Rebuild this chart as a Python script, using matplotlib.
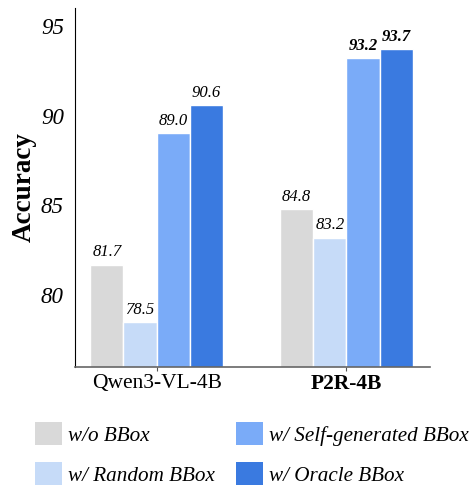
import numpy as np
import matplotlib.pyplot as plt
from matplotlib.patches import Patch

# ── Data ──────────────────────────────────────────────────────────────────────
models   = ['Qwen3-VL-4B', 'P2R-4B']
settings = ['w/o BBox', 'w/ Random BBox', 'w/ Self-generated BBox', 'w/ Oracle BBox']
scores   = [
    [81.7, 84.8],   # w/o BBox
    [78.5, 83.2],   # w/ Random BBox
    [89.0, 93.2],   # w/ Self-generated BBox
    [90.6, 93.7],   # w/ Oracle BBox
]
colors = ['#d9d9d9', '#c6dbf8', '#7aabf8', '#3a7ae0']

plt.rcParams['font.family'] = ['Liberation Serif', 'DejaVu Serif']

fig = plt.figure(figsize=(4.75, 4.86), dpi=100)
ax = fig.add_axes([0.158, 0.245, 0.747, 0.739])

x = np.arange(len(models))
w = 0.175
for k, (name, vals) in enumerate(zip(settings, scores)):
    pos = x + (k - 1.5) * w
    bars = ax.bar(pos, vals, width=w, color=colors[k], edgecolor='white', linewidth=1, label=name)
    for j, (b, v) in enumerate(zip(bars, vals)):
        bold = (j == 1 and k >= 2)
        ax.annotate(f'{v:.1f}', (b.get_x() + b.get_width() / 2, v),
                    xytext=(0, 3), textcoords='offset points', ha='center', va='bottom',
                    fontsize=12, style='italic', fontweight='bold' if bold else 'normal')

ax.set_ylim(76, 96)
ax.set_xlim(-0.43, 1.44)
ax.set_yticks([80, 85, 90, 95])
ax.tick_params(axis='y', length=0, labelsize=16.5, pad=8)
for t in ax.get_yticklabels():
    t.set_style('italic')
ax.set_xticks(x)
ax.set_xticklabels(models, fontsize=15.5)
ax.get_xticklabels()[1].set_fontweight('bold')
ax.tick_params(axis='x', length=3, color='#555555', pad=2)
ax.set_ylabel('Accuracy', fontsize=19.5, fontweight='bold', labelpad=3)

ax.spines['top'].set_visible(False)
ax.spines['right'].set_visible(False)
ax.spines['bottom'].set_color('#666666')
ax.spines['bottom'].set_linewidth(1.2)

handles = [Patch(facecolor=c, edgecolor='none') for c in colors]
leg = fig.legend(handles, settings, loc='center', bbox_to_anchor=(252 / 475, 1 - 454 / 486),
                 ncol=2, frameon=False, prop={'style': 'italic', 'size': 15.2},
                 handlelength=1.25, handleheight=1.25, handletextpad=0.3,
                 columnspacing=1.0, labelspacing=0.8)

plt.savefig('out.png', dpi=100)
